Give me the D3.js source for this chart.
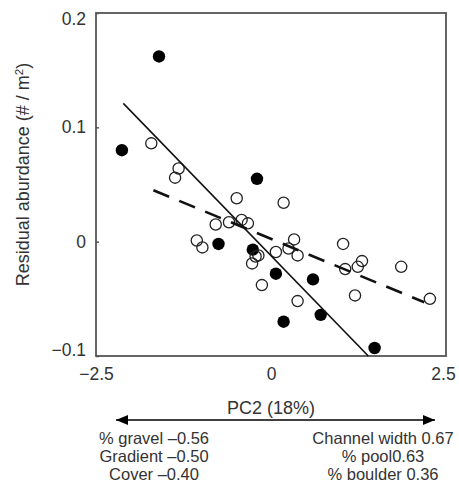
<!DOCTYPE html>
<html>
<head>
<meta charset="utf-8">
<script src="https://cdn.jsdelivr.net/npm/d3@7"></script>
<style>
  html, body { margin: 0; padding: 0; background: #fff; }
  svg { display: block; }
  text { font-family: "Liberation Sans", Arial, Helvetica, sans-serif; fill: #333; }
</style>
</head>
<body>
<div id="chart"></div>
<script>
// ---- data ----
const filledPoints = [
  [-2.13, 0.080], [-1.60, 0.162], [-0.20, 0.055], [-0.75, -0.002],
  [-0.26, -0.007], [0.07, -0.028], [0.60, -0.033], [0.18, -0.070],
  [0.71, -0.064], [1.48, -0.093]
];
const openPoints = [
  [-1.71, 0.086], [-1.32, 0.064], [-1.37, 0.056], [-0.49, 0.038],
  [0.18, 0.034], [-0.79, 0.015], [-0.60, 0.017], [-0.42, 0.019],
  [-0.33, 0.016], [-1.06, 0.001], [-0.98, -0.005], [-0.22, -0.013],
  [-0.27, -0.019], [-0.18, -0.012], [0.07, -0.009], [0.25, -0.006],
  [0.33, 0.002], [0.38, -0.012], [-0.13, -0.038], [0.38, -0.052],
  [1.03, -0.002], [1.06, -0.024], [1.24, -0.022], [1.30, -0.017],
  [1.20, -0.047], [1.86, -0.022], [2.27, -0.050]
];
const solidFit = [[-2.11, 0.121], [1.39, -0.100]];
const dashedFit = [[-1.68, 0.045], [2.19, -0.053]];

const xTicks = [-2.5, 0, 2.5];
const xTickLabels = ["\u22122.5", "0", "2.5"];
const yTicks = [0.2, 0.1, 0, -0.1];
const yTickLabels = ["0.2", "0.1", "0", "\u22120.1"];

const xTitle = "PC2 (18%)";
const yTitle = "Residual aburdance (# / m";
const leftLoadings = ["% gravel \u20130.56", "Gradient \u20130.50", "Cover \u20130.40"];
const rightLoadings = ["Channel width 0.67", "% pool0.63", "% boulder 0.36"];

// ---- layout ----
const W = 459, H = 483;
const plot = { left: 96, right: 446, top: 13, bottom: 356 };

const svg = d3.select("#chart").append("svg").attr("width", W).attr("height", H);

const x = d3.scaleLinear().domain([-2.5, 2.5]).range([plot.left, plot.right]);
const y = d3.scaleLinear().domain([-0.1, 0.2]).range([plot.bottom, plot.top]);

// frame
svg.append("rect")
  .attr("x", plot.left).attr("y", plot.top)
  .attr("width", plot.right - plot.left).attr("height", plot.bottom - plot.top)
  .attr("fill", "none").attr("stroke", "#555").attr("stroke-width", 1.8);

// y axis (inward ticks)
const yAxis = d3.axisLeft(y).tickValues(yTicks)
  .tickFormat((d, i) => yTickLabels[i]).tickSizeInner(-3).tickSizeOuter(0).tickPadding(10);
const gy = svg.append("g").attr("transform", `translate(${plot.left},0)`).call(yAxis);
gy.select(".domain").remove();
gy.selectAll(".tick line").attr("stroke", "#555").attr("stroke-width", 1.5);
gy.selectAll(".tick text")
  .style("font-size", "17.5px").attr("fill", "#333")
  .attr("dy", d => d === 0.2 ? "0.65em" : d === -0.1 ? "-0.05em" : "0.32em");

// x axis
const xAxis = d3.axisBottom(x).tickValues(xTicks)
  .tickFormat((d, i) => xTickLabels[i]).tickSize(0).tickPadding(12);
const gx = svg.append("g").attr("transform", `translate(0,${plot.bottom})`).call(xAxis);
gx.select(".domain").remove();
gx.selectAll(".tick text").style("font-size", "17.5px").attr("fill", "#333")
  .attr("dx", d => d === 2.5 ? -3 : 0);

// points
svg.append("g").selectAll("circle").data(filledPoints).join("circle")
  .attr("cx", d => x(d[0])).attr("cy", d => y(d[1])).attr("r", 6.2)
  .attr("fill", "#000");
svg.append("g").selectAll("circle").data(openPoints).join("circle")
  .attr("cx", d => x(d[0])).attr("cy", d => y(d[1])).attr("r", 5.6)
  .attr("fill", "none").attr("stroke", "#222").attr("stroke-width", 1.3);

// fitted lines
const line = d3.line().x(d => x(d[0])).y(d => y(d[1]));
svg.append("path").datum(solidFit).attr("d", line)
  .attr("fill", "none").attr("stroke", "#111").attr("stroke-width", 1.6);
svg.append("path").datum(dashedFit).attr("d", line)
  .attr("fill", "none").attr("stroke", "#111").attr("stroke-width", 2.6)
  .attr("stroke-dasharray", "17,11");

// y title
svg.append("text")
  .attr("transform", `translate(29,${(plot.top + plot.bottom) / 2 - 10}) rotate(-90)`)
  .attr("text-anchor", "middle").style("font-size", "18px")
  .text(yTitle)
  .append("tspan").attr("baseline-shift", "super").style("font-size", "11.5px").text("2")
  .select(function () { return this.parentNode; })
  .append("tspan").text(")");

// x title
svg.append("text").attr("x", x(0)).attr("y", 414)
  .attr("text-anchor", "middle").style("font-size", "18px").text(xTitle);

// double arrow
svg.append("defs").call(defs => {
  ["start", "end"].forEach(k => {
    defs.append("marker").attr("id", "arr-" + k)
      .attr("viewBox", "0 0 12 10").attr("refX", k === "end" ? 12 : 0).attr("refY", 5)
      .attr("markerWidth", 12).attr("markerHeight", 10).attr("markerUnits", "userSpaceOnUse")
      .attr("orient", "auto")
      .append("path").attr("d", k === "end" ? "M0,0 L12,5 L0,10 Z" : "M12,0 L0,5 L12,10 Z")
      .attr("fill", "#000");
  });
});
svg.append("line").attr("x1", 116).attr("x2", 435).attr("y1", 420).attr("y2", 420)
  .attr("stroke", "#000").attr("stroke-width", 1.5)
  .attr("marker-start", "url(#arr-start)").attr("marker-end", "url(#arr-end)");

// loadings
const rowY = [444, 462, 480];
svg.append("g").selectAll("text").data(leftLoadings).join("text")
  .attr("x", 154).attr("y", (d, i) => rowY[i]).attr("text-anchor", "middle")
  .style("font-size", "16.5px").text(d => d);
svg.append("g").selectAll("text").data(rightLoadings).join("text")
  .attr("x", 383).attr("y", (d, i) => rowY[i]).attr("text-anchor", "middle")
  .style("font-size", "16.5px").text(d => d);
</script>
</body>
</html>
